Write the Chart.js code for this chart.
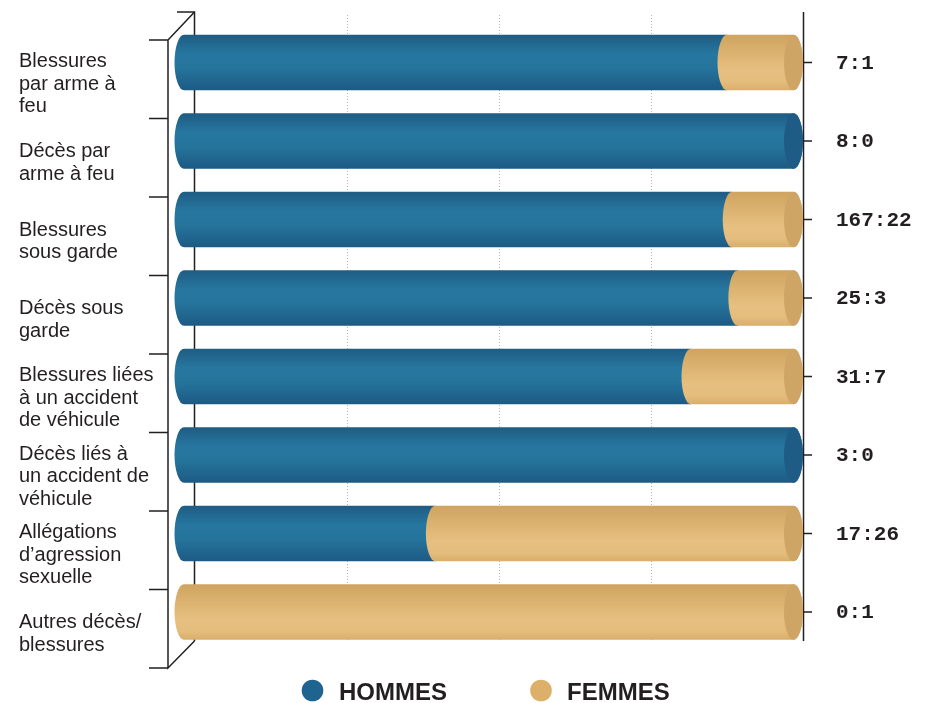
<!DOCTYPE html>
<html>
<head>
<meta charset="utf-8">
<script src="https://cdn.jsdelivr.net/npm/chart.js@4"></script>
<style>
  html, body { margin: 0; padding: 0; background: #fff; }
  canvas { display: block; }
</style>
</head>
<body>
<canvas id="chart" width="929" height="703"></canvas>
<script>
// Catégories (une ligne par élément de tableau)
const categories = [
    ["Blessures", "par arme à", "feu"],
    ["Décès par", "arme à feu"],
    ["Blessures", "sous garde"],
    ["Décès sous", "garde"],
    ["Blessures liées", "à un accident", "de véhicule"],
    ["Décès liés à", "un accident de", "véhicule"],
    ["Allégations", "d’agression", "sexuelle"],
    ["Autres décès/", "blessures"]
];
const hommes = [7, 8, 167, 25, 31, 3, 17, 0];
const femmes = [1, 0, 22, 3, 7, 0, 26, 1];
const xTicks = [0, 25, 50, 75, 100];
const legendLabels = ["HOMMES", "FEMMES"];

const blue = "#1f6390";
const tan = "#dcb068";
const ink = "#231f20";

// parts en % (hommes / femmes) pour une barre 100 %
const totals = hommes.map((h, i) => h + femmes[i]);
const partHommes = hommes.map((h, i) => h / totals[i] * 100);
const partFemmes = femmes.map((f, i) => f / totals[i] * 100);
const ratioLabels = hommes.map((h, i) => `${h}:${femmes[i]}`);

function gradientFor(ctx, top, bottom, kind) {
    const g = ctx.createLinearGradient(0, top, 0, bottom);
    if (kind === 0) {
        g.addColorStop(0, "#1f5c83");
        g.addColorStop(0.35, "#2677a0");
        g.addColorStop(0.6, "#25749c");
        g.addColorStop(1, "#1d5a84");
    } else {
        g.addColorStop(0, "#cfa45f");
        g.addColorStop(0.65, "#e7c081");
        g.addColorStop(0.85, "#e4bc7c");
        g.addColorStop(1, "#d9ae6c");
    }
    return g;
}

const cylinders = {
    id: 'cylinders',
    afterDatasetsDraw(chart) {
        const ctx = chart.ctx;
        const xs = chart.scales.x;
        const ys = chart.scales.y;
        const area = chart.chartArea;
        const x0 = xs.getPixelForValue(0);
        const x100 = xs.getPixelForValue(100);
        const top = area.top - 11.25;
        const bottom = area.bottom - 10.25;
        const depth = 27;
        const rx = 9.5;
        ctx.save();

        // grille pointillée (mur du fond)
        ctx.strokeStyle = "#b5b5b5";
        ctx.lineWidth = 1;
        ctx.setLineDash([1, 2]);
        xTicks.slice(1, -1).forEach(v => {
            const x = Math.round(xs.getPixelForValue(v)) + 0.5;
            ctx.beginPath();
            ctx.moveTo(x, top + 3);
            ctx.lineTo(x, bottom);
            ctx.stroke();
        });
        ctx.setLineDash([]);

        // axe du fond + axe de droite
        ctx.strokeStyle = ink;
        ctx.lineWidth = 1.5;
        ctx.beginPath();
        ctx.moveTo(x0 - 18, top);
        ctx.lineTo(x0 - 0.5, top);
        ctx.lineTo(x0 - 0.5, bottom);
        ctx.moveTo(x100 + 0.5, top);
        ctx.lineTo(x100 + 0.5, bottom);
        ctx.stroke();

        // cylindres
        const metaH = chart.getDatasetMeta(0);
        const metaF = chart.getDatasetMeta(1);
        for (let i = 0; i < categories.length; i++) {
            const segs = [metaH.data[i], metaF.data[i]];
            const vals = [partHommes[i], partFemmes[i]];
            segs.forEach((el, k) => {
                if (vals[k] <= 0) return;
                const yT = el.y - el.height / 2;
                const yB = el.y + el.height / 2;
                const ry = el.height / 2;
                const xl = Math.min(el.base, el.x);
                const xr = Math.max(el.base, el.x);
                const leftC = xl <= x0 + 0.5 ? x0 - 11 : xl;
                const atEnd = xr >= x100 - 0.5;
                const rightC = atEnd ? x100 - rx : xr;
                ctx.fillStyle = gradientFor(ctx, yT, yB, k);
                ctx.beginPath();
                ctx.ellipse(leftC, el.y, rx, ry, 0, Math.PI / 2, Math.PI * 1.5);
                if (atEnd) {
                    ctx.lineTo(rightC, yT);
                    ctx.ellipse(rightC, el.y, rx, ry, 0, -Math.PI / 2, Math.PI / 2);
                } else {
                    ctx.lineTo(rightC, yT);
                    ctx.lineTo(rightC, yB);
                }
                ctx.closePath();
                ctx.fill();
                if (atEnd) {
                    ctx.fillStyle = k === 0 ? "#1e5c86" : "#cfa565";
                    ctx.beginPath();
                    ctx.ellipse(rightC, el.y, rx, ry, 0, 0, Math.PI * 2);
                    ctx.fill();
                }
            });

            // tiret à droite + ratio
            ctx.strokeStyle = ink;
            ctx.lineWidth = 1.5;
            const yc = ys.getPixelForValue(i);
            ctx.beginPath();
            ctx.moveTo(x100, yc);
            ctx.lineTo(x100 + 9, yc);
            ctx.stroke();
            ctx.fillStyle = ink;
            ctx.font = "bold 21px 'Liberation Mono', 'DejaVu Sans Mono', monospace";
            ctx.textAlign = "left";
            ctx.textBaseline = "middle";
            ctx.fillText(ratioLabels[i], 836, yc + 1);
        }

        // axe avant (perspective)
        const pitch = ys.getPixelForValue(1) - ys.getPixelForValue(0);
        const shift = 16.75;
        const fx = x0 - depth;
        const fTop = ys.getPixelForValue(0) - pitch / 2 + shift;
        const fBottom = fTop + pitch * categories.length;
        ctx.strokeStyle = ink;
        ctx.lineWidth = 1.5;
        ctx.beginPath();
        ctx.moveTo(x0 - 0.5, top);
        ctx.lineTo(fx, fTop);
        ctx.lineTo(fx, fBottom);
        ctx.lineTo(x0 - 0.5, bottom);
        for (let k = 0; k <= categories.length; k++) {
            const y = fTop + k * pitch;
            ctx.moveTo(fx - 19, y);
            ctx.lineTo(fx, y);
        }
        ctx.stroke();

        // libellés des catégories
        ctx.fillStyle = ink;
        ctx.font = "20px 'Liberation Sans', Arial, sans-serif";
        ctx.textAlign = "left";
        ctx.textBaseline = "middle";
        const gap = 22.5;
        categories.forEach((lines, i) => {
            const mid = fTop + (i + 0.5) * pitch + 5;
            lines.forEach((t, j) => {
                ctx.fillText(t, 19, mid + (j - (lines.length - 1) / 2) * gap);
            });
        });

        // légende
        const items = [[312.5, 339, blue], [541, 567, tan]];
        ctx.font = "bold 24px 'Liberation Sans', Arial, sans-serif";
        ctx.textBaseline = "alphabetic";
        items.forEach(([cx, tx, col], k) => {
            ctx.fillStyle = col;
            ctx.beginPath();
            ctx.arc(cx, 690.5, 10.8, 0, Math.PI * 2);
            ctx.fill();
            ctx.fillStyle = ink;
            ctx.fillText(legendLabels[k], tx, 699.5);
        });
        ctx.restore();
    }
};

new Chart(document.getElementById('chart'), {
    type: 'bar',
    data: {
        labels: categories,
        datasets: [
            { label: legendLabels[0], data: partHommes, backgroundColor: 'rgba(0,0,0,0)' },
            { label: legendLabels[1], data: partFemmes, backgroundColor: 'rgba(0,0,0,0)' }
        ]
    },
    options: {
        indexAxis: 'y',
        responsive: false,
        animation: false,
        devicePixelRatio: 1,
        barPercentage: 0.707,
        categoryPercentage: 1,
        layout: { padding: { left: 195, right: 126, top: 23.25, bottom: 51.75 } },
        scales: {
            x: { stacked: true, min: 0, max: 100, display: false },
            y: { stacked: true, display: false, offset: true }
        },
        plugins: {
            legend: { display: false },
            tooltip: { enabled: false }
        }
    },
    plugins: [cylinders]
});
</script>
</body>
</html>
